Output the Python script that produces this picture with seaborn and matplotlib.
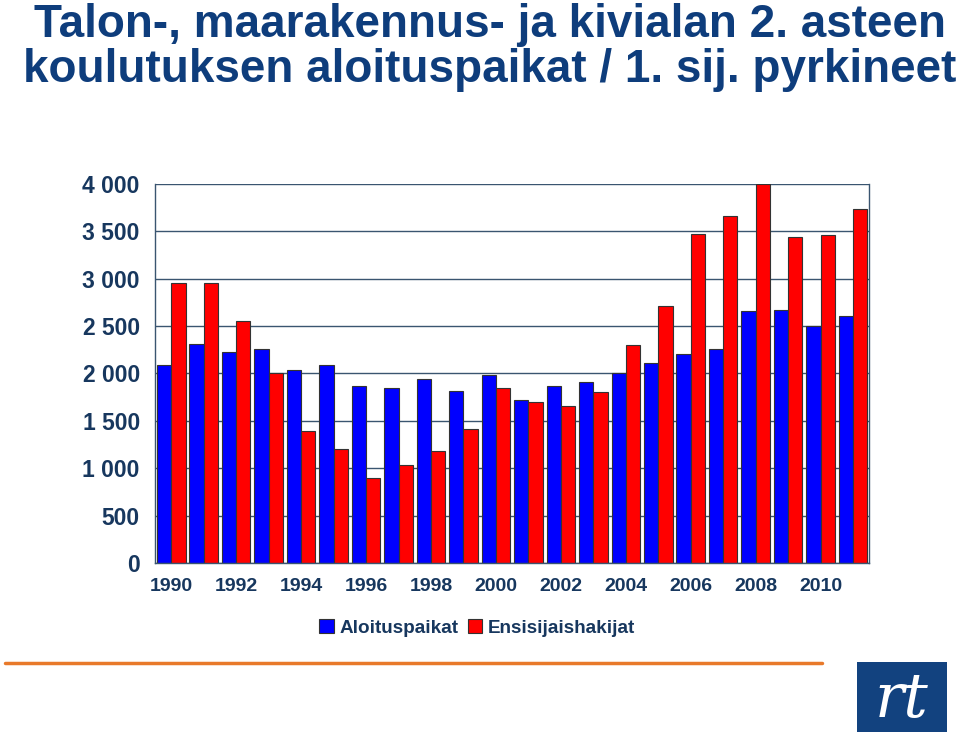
import pandas as pd
import numpy as np
import seaborn as sns
import matplotlib.pyplot as plt
from matplotlib.patches import Rectangle
from matplotlib.lines import Line2D

# data
vuodet = list(range(1990, 2012))
aloituspaikat = [2085, 2310, 2230, 2260, 2040, 2085, 1865, 1845, 1940, 1815, 1980,
                 1720, 1865, 1910, 2000, 2115, 2210, 2260, 2655, 2665, 2500, 2605]
ensisijaishakijat = [2950, 2950, 2550, 2010, 1390, 1200, 900, 1035, 1180, 1410, 1850,
                     1700, 1660, 1800, 2300, 2715, 3475, 3660, 3995, 3440, 3460, 3735]
sarjat = ["Aloituspaikat", "Ensisijaishakijat"]
y_ticks = [0, 500, 1000, 1500, 2000, 2500, 3000, 3500, 4000]

df = pd.DataFrame({
    "Vuosi": vuodet * 2,
    "Määrä": aloituspaikat + ensisijaishakijat,
    "Sarja": [sarjat[0]] * len(vuodet) + [sarjat[1]] * len(vuodet),
})

sns.set_theme(style="white")
plt.rcParams["font.family"] = ["Liberation Sans", "DejaVu Sans"]

navy = "#17375E"
title_col = "#0E3D7C"
grid_col = "#3A5570"

fig = plt.figure(figsize=(9.6, 7.33), dpi=100)
ax = fig.add_axes([0.1615, 0.232, 0.744, 0.517])

sns.barplot(data=df, x="Vuosi", y="Määrä", hue="Sarja",
            palette=["#0000FF", "#FF0000"], saturation=1, width=0.88,
            edgecolor="#333333", linewidth=0.8, ax=ax)

ax.set_xlim(-0.5, len(vuodet) - 0.5)
ax.set_ylim(0, 4000)
ax.set_yticks(y_ticks)
ax.set_yticklabels([f"{v:,}".replace(",", " ") for v in y_ticks])
ax.set_xticks(range(0, len(vuodet), 2))
ax.set_xticklabels([str(v) for v in vuodet[::2]])
ax.set_xticks(np.arange(-0.5, len(vuodet), 1), minor=True)
ax.tick_params(axis="x", which="major", length=0, pad=11)
ax.tick_params(axis="x", which="minor", length=5, width=1, color=grid_col, direction="out")
ax.tick_params(axis="y", length=5, width=1, color=grid_col, direction="out", pad=6)
for lab in ax.get_xticklabels():
    lab.set_fontsize(14)
    lab.set_fontweight("bold")
    lab.set_color(navy)
for lab in ax.get_yticklabels():
    lab.set_fontsize(16.5)
    lab.set_fontweight("bold")
    lab.set_color(navy)
ax.set_xlabel("")
ax.set_ylabel("")

ax.yaxis.grid(True, color=grid_col, linewidth=1)
ax.set_axisbelow(True)
for side in ["left", "right", "bottom"]:
    ax.spines[side].set_color(grid_col)
    ax.spines[side].set_linewidth(1)
ax.spines["top"].set_visible(False)

handles, labels = ax.get_legend_handles_labels()
ax.get_legend().remove()
fig.legend(handles, labels, loc="center", bbox_to_anchor=(0.497, 0.143), ncol=2,
           frameon=False, handlelength=0.75, handleheight=0.75, handletextpad=0.3,
           columnspacing=0.5, prop={"size": 13.6, "weight": "bold"}, labelcolor=navy)

# title
fig.text(0.51, 1 - 37 / 733, "Talon-, maarakennus- ja kivialan 2. asteen",
         ha="center", va="baseline", fontsize=33, fontweight="bold", color=title_col)
fig.text(0.51, 1 - 82 / 733, "koulutuksen aloituspaikat / 1. sij. pyrkineet",
         ha="center", va="baseline", fontsize=33, fontweight="bold", color=title_col)

# orange footer line and logo
fig.add_artist(Line2D([5 / 960, 822 / 960], [1 - 663 / 733] * 2,
                      color="#E8792A", linewidth=2.5))
fig.add_artist(Rectangle((857 / 960, 1 - 732 / 733), 90 / 960, 70 / 733,
                         facecolor="#12427F", edgecolor="none"))
fig.text(902 / 960, 1 - 700 / 733, "rt", ha="center", va="center", fontsize=44,
         color="white", style="italic", family="DejaVu Serif")

fig.savefig("out.png", dpi=100)
